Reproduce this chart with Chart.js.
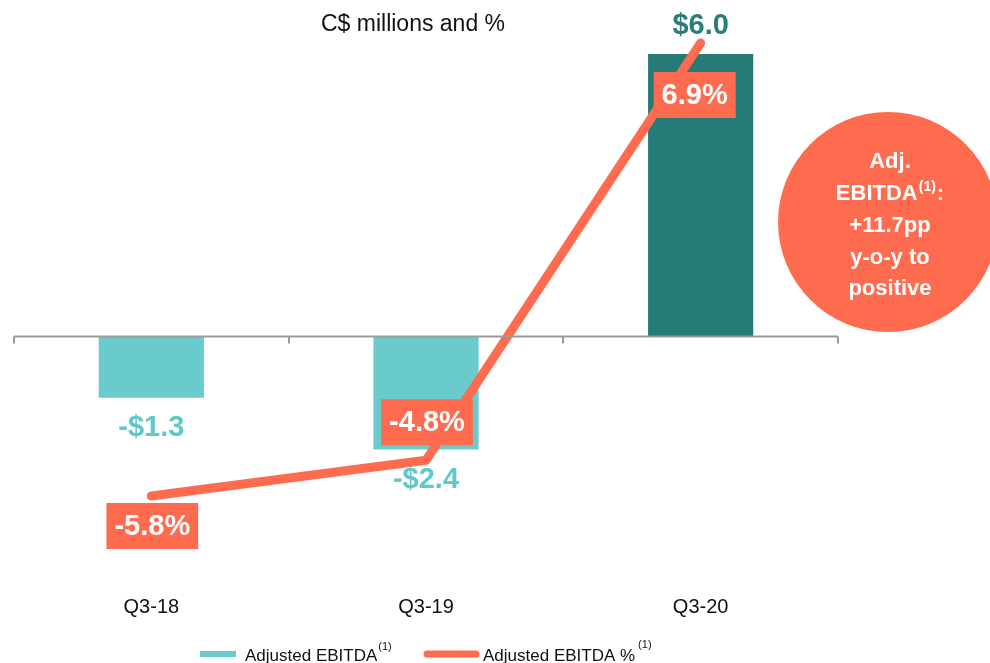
<!DOCTYPE html>
<html>
<head>
<meta charset="utf-8">
<script src="https://cdn.jsdelivr.net/npm/chart.js@4.4.0/dist/chart.umd.min.js"></script>
<style>
  html, body { margin: 0; padding: 0; background: #fff; overflow: hidden; }
  #wrap { width: 990px; height: 663px; position: relative; }
</style>
</head>
<body>
<div id="wrap"><canvas id="ebitdaChart" width="990" height="663"></canvas></div>
<script>
// data
const categories = ['Q3-18', 'Q3-19', 'Q3-20'];
const adjEbitda = [-1.3, -2.4, 6.0];          // C$ millions
const adjEbitdaPct = [-5.8, -4.8, 6.9];       // %
const ebitdaLabels = ['-$1.3', '-$2.4', '$6.0'];
const pctLabels = ['-5.8%', '-4.8%', '6.9%'];
const subtitle = 'C$ millions and %';
const calloutLines = ['Adj.', 'EBITDA', '+11.7pp', 'y-o-y to', 'positive'];

const LIGHT = '#69CBCB';
const DARK = '#267A77';
const ORANGE = '#FF6B4F';
const FONT = '"Liberation Sans", Arial, sans-serif';

const barColors = adjEbitda.map((v, i) => i === adjEbitda.length - 1 ? DARK : LIGHT);
const labelColors = adjEbitda.map((v, i) => i === adjEbitda.length - 1 ? '#2A7E7A' : '#5FC8C8');

// zero line with category tick marks, drawn over bars
const axisLine = {
    id: 'axisLine',
    afterDatasetsDraw(chart) {
        const { ctx, chartArea, scales } = chart;
        const y0 = scales.y.getPixelForValue(0);
        const x = scales.x;
        const step = x.getPixelForValue(1) - x.getPixelForValue(0);
        ctx.save();
        ctx.strokeStyle = '#9A9A9A';
        ctx.lineWidth = 2;
        ctx.beginPath();
        ctx.moveTo(chartArea.left, y0);
        ctx.lineTo(chartArea.right, y0);
        for (let i = 0; i <= categories.length; i++) {
            const px = Math.round(x.getPixelForValue(0) - step / 2 + i * step);
            ctx.moveTo(px, y0);
            ctx.lineTo(px, y0 + 7);
        }
        ctx.stroke();
        ctx.restore();
    }
};

// value labels for bars and the % boxes
const valueLabels = {
    id: 'valueLabels',
    afterDraw(chart) {
        const { ctx } = chart;
        const barMeta = chart.getDatasetMeta(0);
        const lineMeta = chart.getDatasetMeta(1);
        ctx.save();
        ctx.textAlign = 'center';
        ctx.textBaseline = 'middle';
        ctx.font = 'bold 29px ' + FONT;

        barMeta.data.forEach((bar, i) => {
            const y = adjEbitda[i] < 0 ? bar.y + 30 : bar.y - 28;
            ctx.fillStyle = labelColors[i];
            ctx.fillText(ebitdaLabels[i], bar.x, y);
        });

        // -5.8 below, -4.8 above, 6.9 below its point
        const shift = [30, -38, 52];
        lineMeta.data.forEach((pt, i) => {
            const w = ctx.measureText(pctLabels[i]).width + 16;
            const h = 46;
            const cx = pt.x + (i === 2 ? -6 : 1);
            const cy = pt.y + shift[i];
            ctx.fillStyle = ORANGE;
            ctx.fillRect(cx - w / 2, cy - h / 2, w, h);
            ctx.fillStyle = '#fff';
            ctx.fillText(pctLabels[i], cx, cy + 1);
        });
        ctx.restore();
    }
};

// subtitle, callout circle and legend
const extras = {
    id: 'extras',
    afterDraw(chart) {
        const { ctx } = chart;
        ctx.save();
        ctx.fillStyle = '#111';
        ctx.font = '23px ' + FONT;
        ctx.textAlign = 'center';
        ctx.textBaseline = 'alphabetic';
        ctx.fillText(subtitle, 413, 31);

        // callout
        ctx.fillStyle = ORANGE;
        ctx.beginPath();
        ctx.arc(888, 222, 110, 0, Math.PI * 2);
        ctx.fill();
        ctx.fillStyle = '#fff';
        ctx.font = 'bold 22px ' + FONT;
        const base = [168, 200, 232, 264, 295];
        calloutLines.forEach((t, i) => {
            if (i === 1) {
                ctx.textAlign = 'left';
                const w1 = ctx.measureText(t).width;
                ctx.font = 'bold 14px ' + FONT;
                const w2 = ctx.measureText('(1)').width;
                ctx.font = 'bold 22px ' + FONT;
                const w3 = ctx.measureText(':').width;
                const x0 = 890 - (w1 + w2 + w3 + 2) / 2;
                ctx.fillText(t, x0, base[i]);
                ctx.font = 'bold 14px ' + FONT;
                ctx.fillText('(1)', x0 + w1 + 1, base[i] - 9);
                ctx.font = 'bold 22px ' + FONT;
                ctx.fillText(':', x0 + w1 + w2 + 2, base[i]);
                ctx.textAlign = 'center';
            } else {
                ctx.fillText(t, 890, base[i]);
            }
        });

        // legend
        ctx.textAlign = 'left';
        ctx.lineWidth = 6;
        ctx.strokeStyle = LIGHT;
        ctx.lineCap = 'butt';
        ctx.beginPath();
        ctx.moveTo(200, 654);
        ctx.lineTo(236, 654);
        ctx.stroke();
        ctx.strokeStyle = ORANGE;
        ctx.lineWidth = 7;
        ctx.lineCap = 'round';
        ctx.beginPath();
        ctx.moveTo(427, 654);
        ctx.lineTo(476, 654);
        ctx.stroke();

        ctx.fillStyle = '#111';
        ctx.font = '17px ' + FONT;
        const t1 = 'Adjusted EBITDA';
        ctx.fillText(t1, 245, 661);
        let w = ctx.measureText(t1).width;
        ctx.font = '11px ' + FONT;
        ctx.fillText('(1)', 245 + w + 1, 650);
        ctx.font = '17px ' + FONT;
        const t2 = 'Adjusted EBITDA %';
        ctx.fillText(t2, 483, 661);
        w = ctx.measureText(t2).width;
        ctx.font = '11px ' + FONT;
        ctx.fillText('(1)', 483 + w + 3, 648);
        ctx.restore();
    }
};

const ctx = document.getElementById('ebitdaChart').getContext('2d');
new Chart(ctx, {
    data: {
        labels: categories,
        datasets: [
            {
                type: 'bar',
                label: 'Adjusted EBITDA',
                data: adjEbitda,
                backgroundColor: barColors,
                yAxisID: 'y',
                categoryPercentage: 1,
                barPercentage: 0.383,
                order: 2
            },
            {
                type: 'line',
                label: 'Adjusted EBITDA %',
                data: adjEbitdaPct,
                borderColor: ORANGE,
                borderWidth: 9,
                borderCapStyle: 'round',
                borderJoinStyle: 'round',
                pointRadius: 0,
                tension: 0,
                yAxisID: 'y1',
                order: 1
            }
        ]
    },
    options: {
        responsive: false,
        animation: false,
        layout: { padding: { top: 30, left: 14, right: 152, bottom: 28 } },
        plugins: {
            legend: { display: false },
            tooltip: { enabled: false }
        },
        scales: {
            x: {
                grid: { display: false },
                border: { display: false },
                ticks: {
                    color: '#111',
                    padding: 16,
                    font: { family: FONT, size: 20 }
                }
            },
            y: {
                display: false,
                min: -4.979,
                max: 6.511
            },
            y1: {
                display: false,
                position: 'right',
                min: -7.904,
                max: 7.264
            }
        }
    },
    plugins: [axisLine, valueLabels, extras]
});
</script>
</body>
</html>
